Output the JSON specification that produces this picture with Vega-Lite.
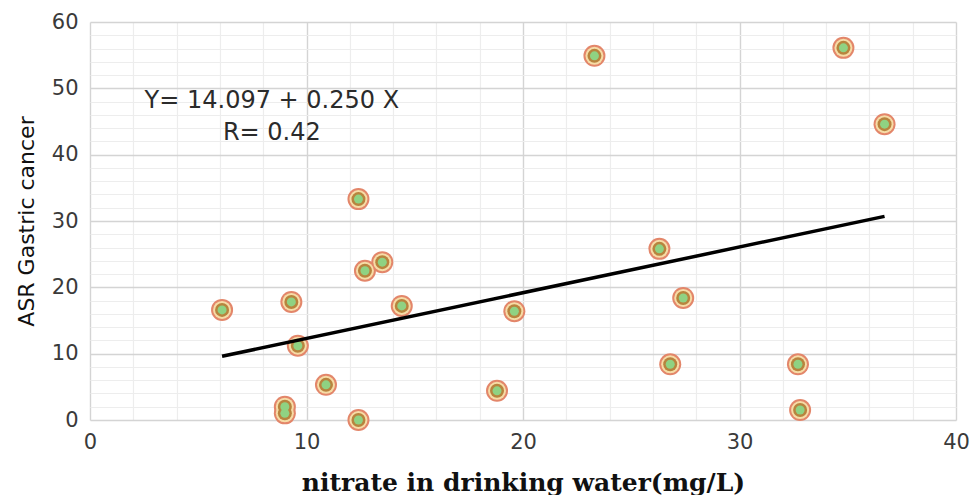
{
  "$schema": "https://vega.github.io/schema/vega-lite/v6.json",
  "width": 866,
  "height": 398,
  "autosize": {"type": "none"},
  "padding": {"left": 90, "top": 22, "right": 16, "bottom": 75},
  "background": "white",
  "config": {"view": {"stroke": null}},
  "datasets": {
    "pts": [
      {"nitrate": 6.1, "asr": 16.6},
      {"nitrate": 9.3, "asr": 17.8},
      {"nitrate": 9.6, "asr": 11.2},
      {"nitrate": 9.0, "asr": 2.0},
      {"nitrate": 9.0, "asr": 1.0},
      {"nitrate": 10.9, "asr": 5.3},
      {"nitrate": 12.4, "asr": 33.3},
      {"nitrate": 12.7, "asr": 22.5},
      {"nitrate": 13.5, "asr": 23.8},
      {"nitrate": 14.4, "asr": 17.2},
      {"nitrate": 12.4, "asr": 0.0},
      {"nitrate": 18.8, "asr": 4.4},
      {"nitrate": 19.6, "asr": 16.4},
      {"nitrate": 23.3, "asr": 54.9},
      {"nitrate": 26.3, "asr": 25.8},
      {"nitrate": 27.4, "asr": 18.4},
      {"nitrate": 26.8, "asr": 8.4},
      {"nitrate": 32.7, "asr": 8.4},
      {"nitrate": 32.8, "asr": 1.5},
      {"nitrate": 34.8, "asr": 56.1},
      {"nitrate": 36.7, "asr": 44.6}
    ],
    "fit": [
      {"nitrate": 6.1, "asr": 9.6},
      {"nitrate": 36.7, "asr": 30.7}
    ],
    "notes": [
      {"nitrate": 8.4, "asr": 48.1, "label": "Y= 14.097 + 0.250 X"},
      {"nitrate": 8.4, "asr": 43.3, "label": "R= 0.42"}
    ]
  },
  "resolve": {"axis": {"x": "independent", "y": "independent"}},
  "layer": [
    {
      "data": {"name": "pts"},
      "mark": {"type": "point", "shape": "circle", "filled": true, "opacity": 1, "size": 484, "color": "#e3866a", "clip": false},
      "encoding": {
        "x": {"field": "nitrate", "type": "quantitative", "scale": {"domain": [0, 40], "nice": false},
          "axis": {"orient": "bottom", "values": [2,4,6,8,12,14,16,18,22,24,26,28,32,34,36,38], "labels": false, "ticks": false, "domain": false, "title": null, "grid": true, "gridColor": "#ededed", "gridWidth": 1.2}},
        "y": {"field": "asr", "type": "quantitative", "scale": {"domain": [0, 60], "nice": false},
          "axis": {"orient": "left", "values": [2,4,6,8,12,14,16,18,22,24,26,28,32,34,36,38,42,44,46,48,52,54,56,58], "labels": false, "ticks": false, "domain": false, "title": null, "grid": true, "gridColor": "#ededed", "gridWidth": 1.2}}
      }
    },
    {
      "data": {"name": "pts"},
      "mark": {"type": "point", "shape": "circle", "filled": true, "opacity": 1, "size": 324, "color": "#f6dca6", "clip": false},
      "encoding": {
        "x": {"field": "nitrate", "type": "quantitative", "axis": null},
        "y": {"field": "asr", "type": "quantitative", "axis": null}
      }
    },
    {
      "data": {"name": "pts"},
      "mark": {"type": "point", "shape": "circle", "filled": true, "opacity": 1, "size": 196, "color": "#b8843e", "clip": false},
      "encoding": {
        "x": {"field": "nitrate", "type": "quantitative", "axis": null},
        "y": {"field": "asr", "type": "quantitative", "axis": null}
      }
    },
    {
      "data": {"name": "pts"},
      "mark": {"type": "point", "shape": "circle", "filled": true, "opacity": 1, "size": 81, "color": "#8fd282", "clip": false},
      "encoding": {
        "x": {"field": "nitrate", "type": "quantitative", "axis": null},
        "y": {"field": "asr", "type": "quantitative", "axis": null}
      }
    },
    {
      "data": {"name": "fit"},
      "mark": {"type": "line", "color": "#000000", "strokeWidth": 3.5},
      "encoding": {
        "x": {"field": "nitrate", "type": "quantitative", "axis": null},
        "y": {"field": "asr", "type": "quantitative", "axis": null}
      }
    },
    {
      "data": {"name": "notes"},
      "mark": {"type": "text", "font": "DejaVu Sans", "fontSize": 24, "color": "#2b2b2b", "align": "center", "baseline": "middle"},
      "encoding": {
        "x": {"field": "nitrate", "type": "quantitative",
          "axis": {"orient": "bottom", "values": [0, 10, 20, 30, 40], "ticks": false, "domain": false, "grid": true, "gridColor": "#d4d4d4", "gridWidth": 1.4, "labelFlush": false,
            "labelFont": "DejaVu Sans", "labelFontSize": 21, "labelColor": "#3a3a3a", "labelPadding": 11,
            "title": "nitrate in drinking water(mg/L)", "titleFont": "DejaVu Serif", "titleFontWeight": "bold", "titleFontSize": 25, "titleColor": "#111111", "titlePadding": 18}},
        "y": {"field": "asr", "type": "quantitative",
          "axis": {"orient": "left", "values": [0, 10, 20, 30, 40, 50, 60], "ticks": false, "domain": false, "grid": true, "gridColor": "#d4d4d4", "gridWidth": 1.4, "labelFlush": false,
            "labelFont": "DejaVu Sans", "labelFontSize": 21, "labelColor": "#3a3a3a", "labelPadding": 12,
            "title": "ASR Gastric cancer", "titleFont": "DejaVu Sans", "titleFontWeight": "normal", "titleFontSize": 22, "titleColor": "#111111", "titlePadding": 13}},
        "text": {"field": "label", "type": "nominal"}
      }
    }
  ]
}
